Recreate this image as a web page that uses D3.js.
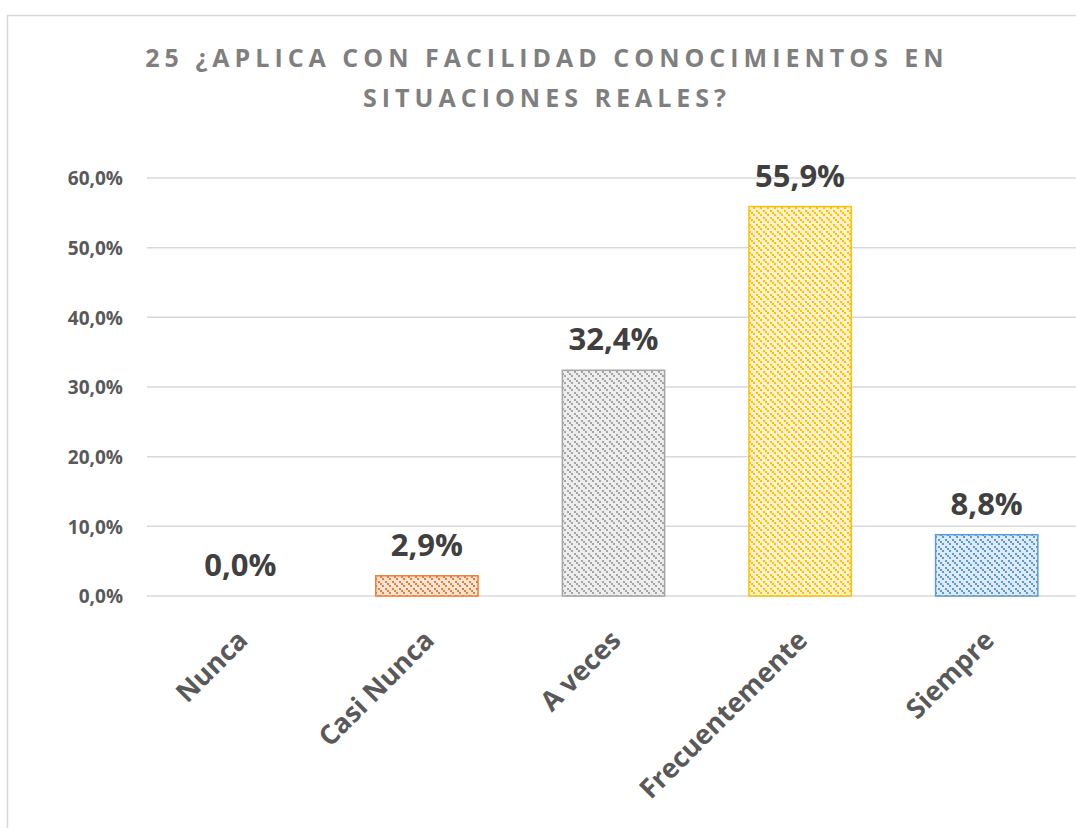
<!DOCTYPE html>
<html><head><meta charset="utf-8">
<script src="https://cdn.jsdelivr.net/npm/d3@7"></script>
<style>
body{margin:0;background:#fff;}
svg{display:block;font-family:"Open Sans", Lato, sans-serif;}
</style></head>
<body><svg id="c" width="1076" height="828"></svg>
<script>
const titleLines = ["25 ¿APLICA CON FACILIDAD CONOCIMIENTOS EN", "SITUACIONES REALES?"];
const categories = ["Nunca", "Casi Nunca", "A veces", "Frecuentemente", "Siempre"];
const values = [0.0, 2.9, 32.4, 55.9, 8.8];
const colors = ["#4472C4", "#ED7D31", "#A5A5A5", "#FFC000", "#5B9BD5"];
const tints = ["#DAE3F3", "#FBE5D6", "#EDEDED", "#FFF2CC", "#DEEBF7"];
const yTicks = [0, 10, 20, 30, 40, 50, 60];

const FONT = "'Open Sans', Lato, sans-serif";
const svg = d3.select("#c");
svg.append("rect").attr("x",7.5).attr("y",15.5).attr("width",1100).attr("height",900)
  .attr("fill","#fff").attr("stroke","#d9d9d9").attr("stroke-width",1.5);

const defs = svg.append("defs");
const cells = [[0,0],[1,1],[2,2],[4,4],[5,5],[6,6]];
categories.forEach((c,i)=>{
  const p = defs.append("pattern").attr("id","pat"+i).attr("patternUnits","userSpaceOnUse")
    .attr("width",7).attr("height",7);
  p.append("rect").attr("width",7).attr("height",7).attr("fill",tints[i]);
  [[0,0],[2,2],[4,4]].forEach(([cx,cy])=>{
    p.append("rect").attr("x",cx).attr("y",cy).attr("width",2).attr("height",2)
      .attr("fill",colors[i]);
  });
});

const x = d3.scaleBand().domain(categories).range([147, 1080]).paddingInner(0.452).paddingOuter(0.226);
const y = d3.scaleLinear().domain([0, 60]).range([596, 178]);

svg.append("g").selectAll("line").data(yTicks).join("line")
  .attr("x1",147).attr("x2",1076).attr("y1",d=>y(d)).attr("y2",d=>y(d))
  .attr("stroke","#d9d9d9").attr("stroke-width",1.5);

const fmt = d=>d3.format(".1f")(d).replace(".",",")+"%";

const yAxis = d3.axisLeft(y).tickValues(yTicks).tickSize(0).tickPadding(0).tickFormat(fmt);
svg.append("g").attr("transform","translate(123,0)").call(yAxis)
  .call(g=>g.select(".domain").remove())
  .selectAll("text").attr("font-size",19).attr("font-weight","bold").attr("fill","#595959")
  .attr("font-family",FONT).attr("dy","0.36em");

svg.append("g").selectAll("rect").data(values).join("rect")
  .attr("x",(d,i)=>x(categories[i])).attr("width",x.bandwidth())
  .attr("y",d=>y(d)).attr("height",d=>y(0)-y(d))
  .attr("fill",(d,i)=>"url(#pat"+i+")").attr("stroke",(d,i)=>colors[i]).attr("stroke-width",1.5)
  .attr("display",d=>d>0?null:"none");

svg.append("g").selectAll("text").data(values).join("text")
  .attr("x",(d,i)=>x(categories[i])+x.bandwidth()/2).attr("y",d=>y(d)-20)
  .attr("text-anchor","middle").attr("font-size",31).attr("font-weight","bold").attr("fill","#404040")
  .text(fmt);

const xAxis = d3.axisBottom(x).tickSize(0).tickPadding(0);
svg.append("g").attr("transform","translate(0,622)").call(xAxis)
  .call(g=>g.select(".domain").remove())
  .selectAll("text").attr("font-size",27).attr("font-weight","bold").attr("fill","#595959")
  .attr("font-family",FONT).attr("y",0).attr("dy",0)
  .attr("text-anchor","end").attr("transform","translate(9,20) rotate(-45)");

svg.append("g").selectAll("text").data(titleLines).join("text")
  .attr("x",547).attr("y",(d,i)=>67+i*40).attr("text-anchor","middle")
  .attr("font-size",25).attr("font-weight","bold").attr("fill","#7f7f7f")
  .attr("letter-spacing",5).text(d=>d);
</script></body></html>
